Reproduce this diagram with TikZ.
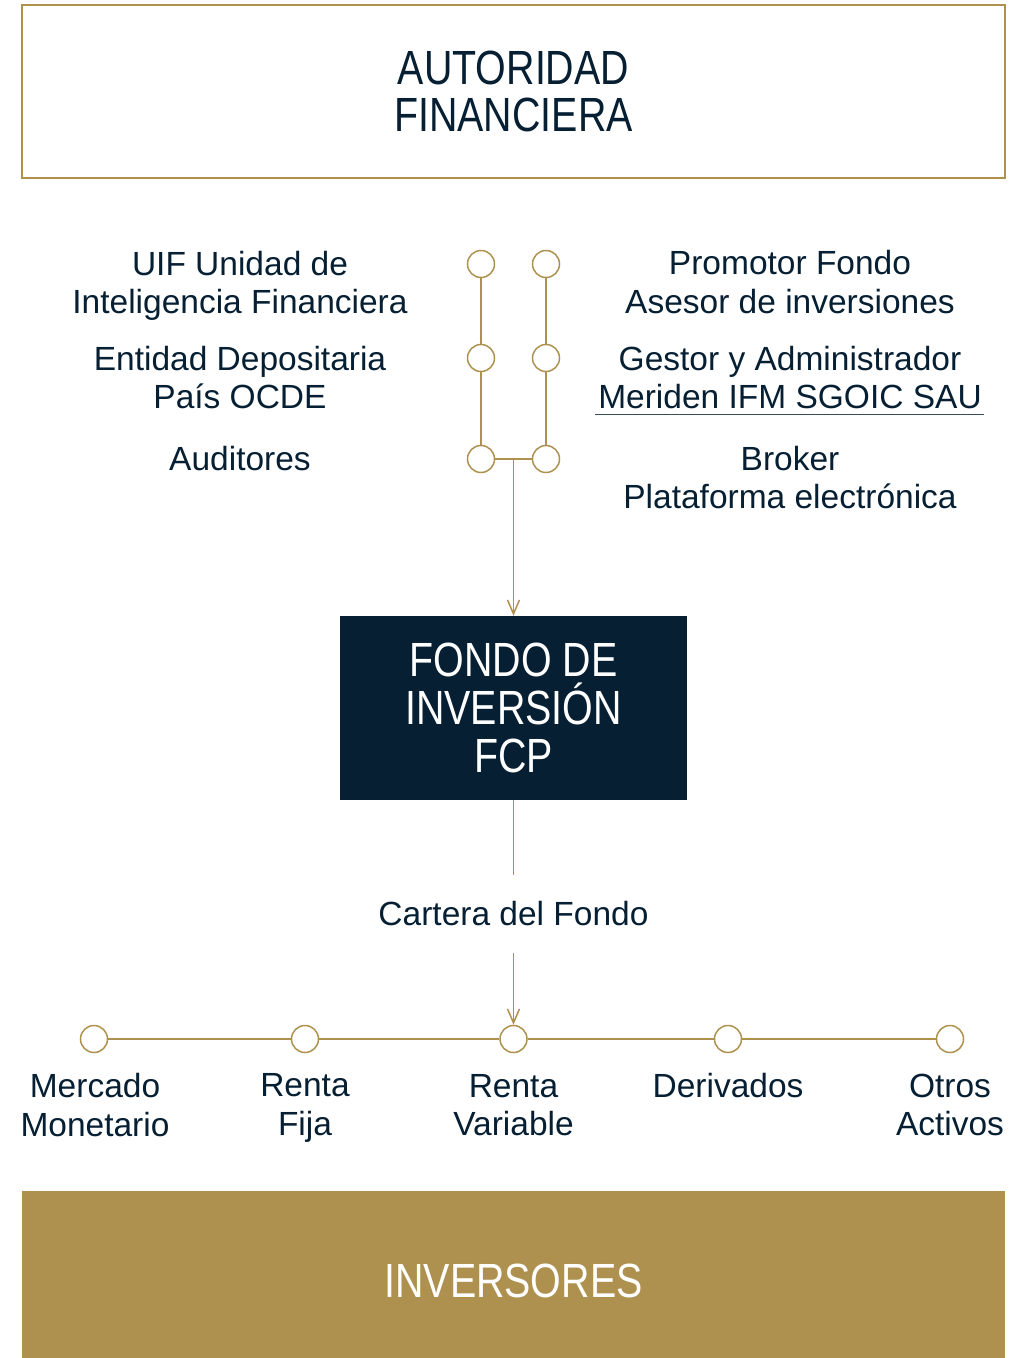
\documentclass[tikz,border=0pt]{standalone}
\usepackage{fontspec}
\setmainfont{Liberation Sans}
\newfontfamily\titlefont[FakeStretch=0.82]{Liberation Sans}
\usetikzlibrary{arrows.meta}
\definecolor{gold}{RGB}{174,145,78}
\definecolor{navy}{RGB}{6,31,51}
\begin{document}
\begin{tikzpicture}[x=1pt,y=-1pt,
  every node/.style={text=navy},
  lbl/.style={font=\fontsize{33.5}{38.5}\selectfont, align=center, inner sep=0pt},
  ttl/.style={font=\titlefont\fontsize{48}{46.5}\selectfont, align=center, inner sep=0pt},
  dot/.style={circle, draw=gold, line width=1.5pt, fill=white, minimum size=27pt, inner sep=0pt},
  link/.style={draw=gold, line width=1.5pt},
  arr/.style={link, -{Straight Barb[length=14pt,width=12pt,line width=1.5pt]}}
]
\useasboundingbox (0,0) rectangle (1024,1358);

% boxes
\node[ttl, draw=gold, line width=1.5pt, minimum width=983pt, minimum height=173pt] (autoridad) at (513.5,91.5) {AUTORIDAD\\FINANCIERA};
\node[ttl, font=\titlefont\fontsize{48}{48}\selectfont, fill=navy, text=white, minimum width=347pt, minimum height=184pt] (fondo) at (513.5,708) {FONDO DE\\INVERSIÓN\\FCP};
\node[ttl, fill=gold, text=white, minimum width=983pt, minimum height=167pt, text height=45pt, text depth=0pt] (inv) at (513.5,1274.5) {INVERSORES};

% top labels
\node[lbl] (uif) at (240,286) {UIF Unidad de\\Inteligencia Financiera};
\node[lbl] (ent) at (240,377.5) {Entidad Depositaria\\País OCDE};
\node[lbl] (aud) at (240,458.5) {Auditores};
\node[lbl] (prom) at (790,282) {Promotor Fondo\\Asesor de inversiones};
\node[lbl] (gest) at (790,377.5) {Gestor y Administrador\\Meriden IFM SGOIC SAU};
\node[lbl] (brok) at (790,477.5) {Broker\\Plataforma electrónica};
\draw[line width=1.5pt, navy!80!white] ([xshift=-3pt,yshift=-5pt]gest.south west) -- ([xshift=2pt,yshift=-5pt]gest.south east);

% top circles
\node[dot] (l1) at (481,264) {};
\node[dot] (l2) at (481,358) {};
\node[dot] (l3) at (481,459) {};
\node[dot] (r1) at (546,264) {};
\node[dot] (r2) at (546,358) {};
\node[dot] (r3) at (546,459) {};
\draw[link] (l1) -- (l2) -- (l3);
\draw[link] (r1) -- (r2) -- (r3);
\draw[link] (l3) -- (r3);
\coordinate (j) at (513.5,459);
\draw[arr] (j) -- (fondo.north);

% cartera
\node[lbl, minimum height=78pt] (cartera) at (513.5,914) {Cartera del Fondo};
\draw[link] (fondo.south) -- (cartera.north);

% bottom circles
\node[dot] (b1) at (94,1039) {};
\node[dot] (b2) at (305,1039) {};
\node[dot] (b3) at (513.5,1039) {};
\node[dot] (b4) at (728,1039) {};
\node[dot] (b5) at (950,1039) {};
\draw[link] (b1) -- (b2) -- (b3) -- (b4) -- (b5);
\draw[arr] (cartera.south) -- (b3);

% bottom labels
\node[lbl] (mm) at (95,1105) {Mercado\\Monetario};
\node[lbl] (rf) at (305,1108) {Renta\\Fija};
\node[lbl] (rv) at (513.5,1105) {Renta\\Variable};
\node[lbl] (der) at (728,1086) {Derivados};
\node[lbl] (oa) at (950,1105) {Otros\\Activos};
\end{tikzpicture}
\end{document}
